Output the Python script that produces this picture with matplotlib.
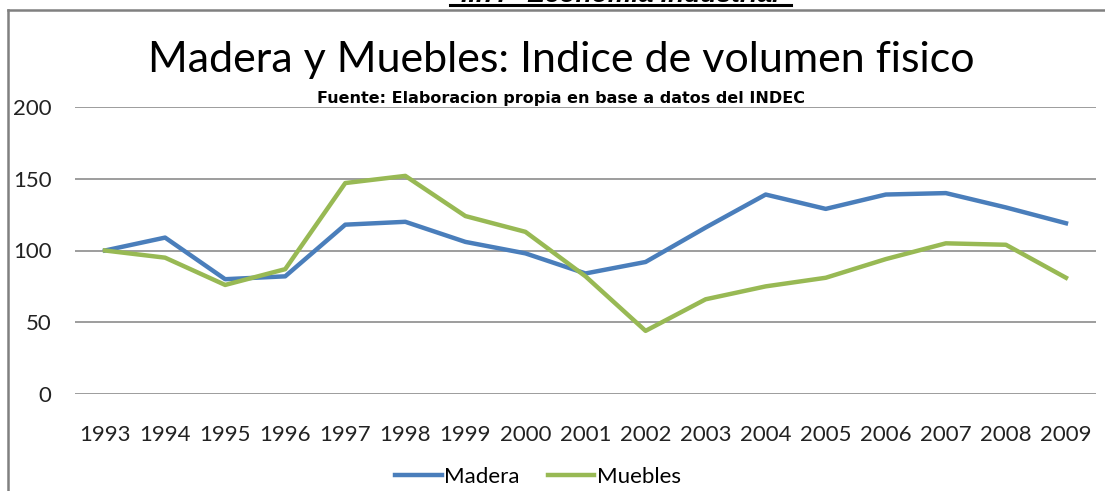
import matplotlib.pyplot as plt
from matplotlib.lines import Line2D

years = ['1993', '1994', '1995', '1996', '1997', '1998', '1999', '2000', '2001',
         '2002', '2003', '2004', '2005', '2006', '2007', '2008', '2009']
madera = [100, 109, 80, 82, 118, 120, 106, 98, 84, 92, 116, 139, 129, 139, 140, 130, 119]
muebles = [100, 95, 76, 87, 147, 152, 124, 113, 82, 44, 66, 75, 81, 94, 105, 104, 81]

plt.rcParams['font.family'] = ['Lato', 'DejaVu Sans']

fig = plt.figure(figsize=(11.05, 4.91), dpi=100)
ax = fig.add_axes([75 / 1105, 1 - 394 / 491, 1021 / 1105, 287 / 491])

x = range(len(years))
ax.plot(x, madera, color='#4A7EBB', lw=3.2, label='Madera', solid_joinstyle='round')
ax.plot(x, muebles, color='#98B954', lw=3.2, label='Muebles', solid_joinstyle='round')

ax.set_xlim(-0.5, len(years) - 0.5)
ax.set_ylim(0, 200)
ax.set_yticks([0, 50, 100, 150, 200])
ax.set_xticks(list(x))
ax.set_xticklabels(years)
ax.tick_params(axis='y', length=0, pad=17, labelsize=16, colors='#222222')
ax.tick_params(axis='x', length=0, pad=22, labelsize=16, colors='#222222')
ax.grid(axis='y', color='#8c8c8c', lw=1.2)
ax.set_axisbelow(True)
for s in ax.spines.values():
    s.set_visible(False)

fig.text(0.508, 1 - 60 / 491, 'Madera y Muebles: Indice de volumen fisico',
         ha='center', va='center', fontsize=31)
fig.text(0.508, 1 - 99 / 491, 'Fuente: Elaboracion propia en base a datos del INDEC',
         ha='center', va='center', fontsize=11.5, fontweight='bold',
         family=['DejaVu Sans'])

# encabezado cortado arriba
fig.text(0.561, 1 - 1.5 / 491, 'II.7.   Economia Industrial', ha='center', va='baseline',
         fontsize=19, fontweight='bold', style='italic', family=['Liberation Sans'])
fig.add_artist(Line2D([450 / 1105, 791 / 1105], [1 - 4.5 / 491] * 2, color='black', lw=2.2))

# borde del grafico
fig.add_artist(Line2D([8 / 1105, 1], [1 - 10 / 491] * 2, color='#808080', lw=1.8))
fig.add_artist(Line2D([8 / 1105, 8 / 1105], [0, 1 - 10 / 491], color='#808080', lw=1.8))

ax.legend(loc='center', bbox_to_anchor=(538 / 1105, 1 - 477 / 491),
          bbox_transform=fig.transFigure, ncol=2, frameon=False, fontsize=16,
          handlelength=2.1, handletextpad=0.1, columnspacing=1.25)

fig.savefig('out.png', dpi=100)
